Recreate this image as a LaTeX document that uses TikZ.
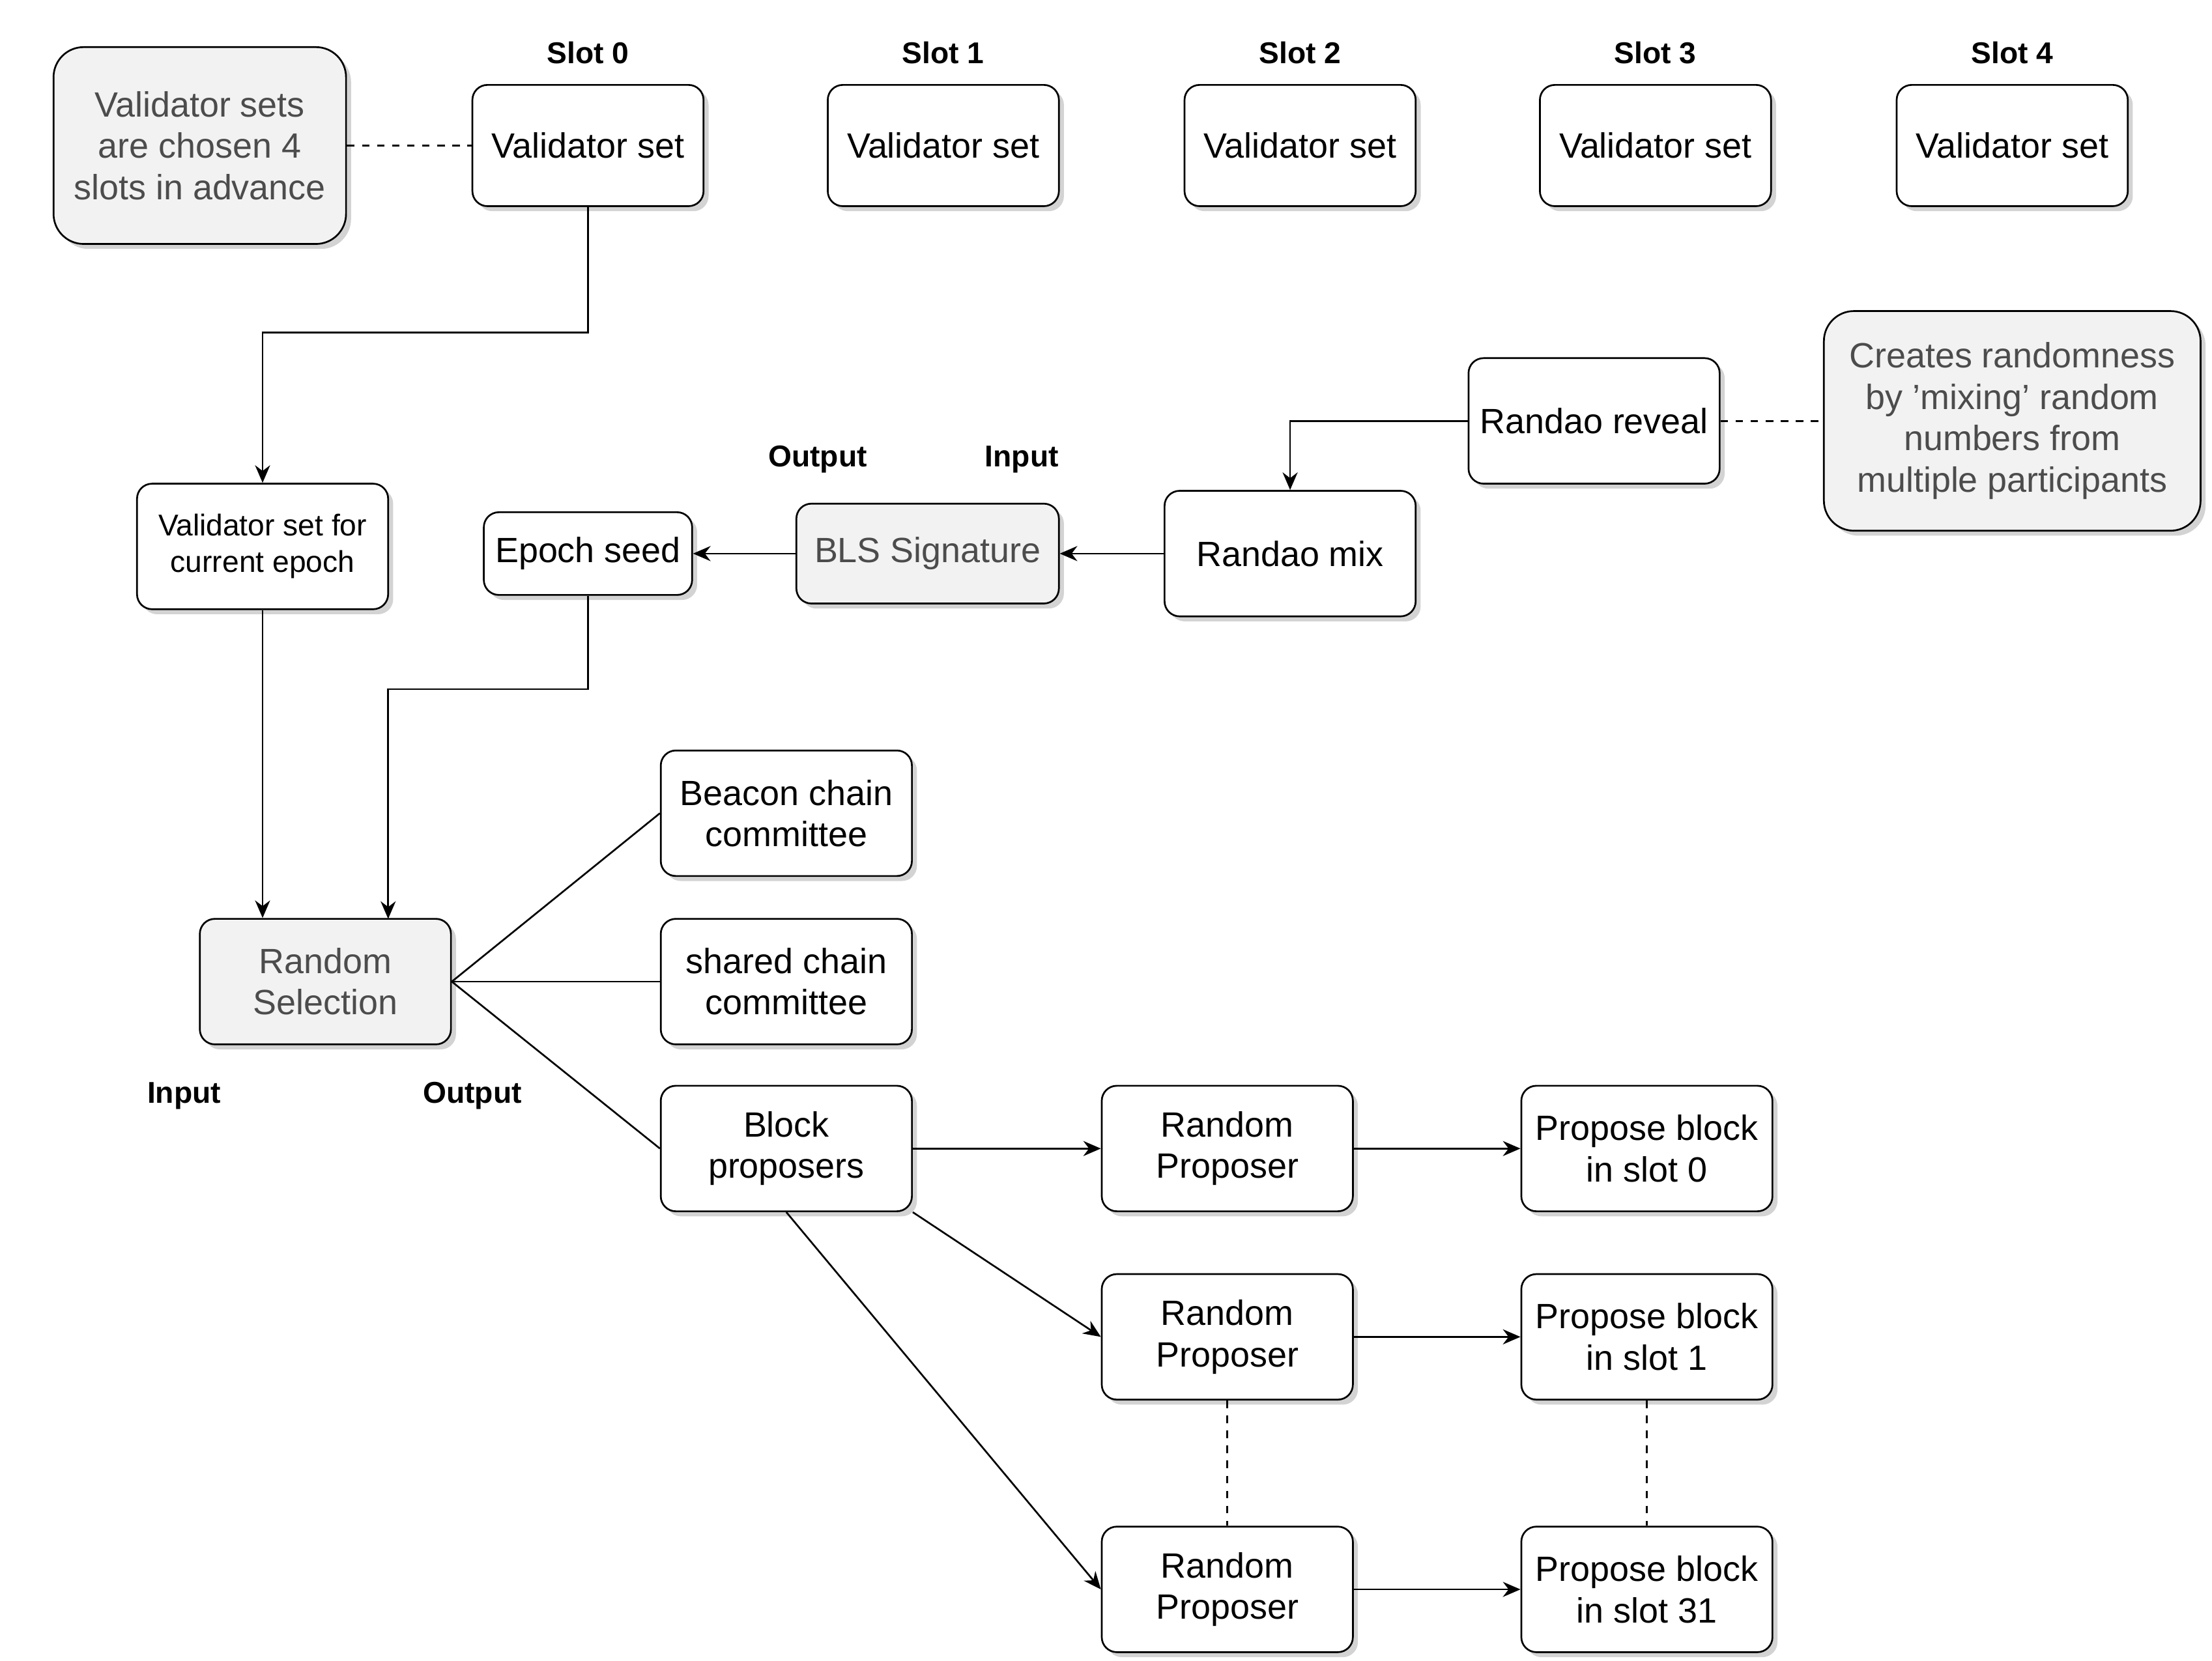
\documentclass[tikz,border=0pt]{standalone}
\usepackage{fontspec}
\setmainfont{Liberation Sans}
\usetikzlibrary{shadows,arrows.meta}
\tikzstyle{caja}= [rectangle,rounded corners=6pt,draw,black,fill=white,drop shadow={opacity=0.35,shadow xshift=2pt,shadow yshift=-2pt},align=center,font=\fontsize{14}{16.5}\selectfont,inner sep=1pt]
\tikzstyle{gris}= [caja,fill=black!5,text=black!70]
\tikzstyle{etiqueta}= [font=\fontsize{12}{14}\selectfont\bfseries]
\tikzstyle{flecha}= [-{Stealth[length=7pt,width=6pt]}]
\begin{document}
\begin{tikzpicture}[x=0.02cm,y=-0.02cm,line width=0.7pt]
		\useasboundingbox (0,0) rectangle (1550,1164);

		\node (nota1) at (140,102) [gris,minimum width=4.1cm,minimum height=2.76cm,rounded corners=12pt] {Validator sets\\are chosen 4\\slots in advance};

		\foreach \i/\x in {0/412,1/661,2/911,3/1160,4/1410}{
			\node (vs\i) at (\x,102) [caja,minimum width=3.24cm,minimum height=1.7cm] {Validator set};
			\node at (\x,37) [etiqueta] {Slot \i};
		}

		\node (vscur) at (184,383) [caja,minimum width=3.52cm,minimum height=1.76cm,font=\fontsize{12}{14.5}\selectfont] {Validator set for\\current epoch};
		\node (seed) at (412,388) [caja,minimum width=2.92cm,minimum height=1.16cm] {Epoch seed};
		\node (bls) at (650,388) [gris,minimum width=3.68cm,minimum height=1.4cm] {BLS Signature};
		\node (mix) at (904,388) [caja,minimum width=3.52cm,minimum height=1.76cm] {Randao mix};
		\node (reveal) at (1117,295) [caja,minimum width=3.52cm,minimum height=1.76cm] {Randao reveal};
		\node (nota2) at (1410,295) [gris,minimum width=5.28cm,minimum height=3.08cm,rounded corners=12pt] {Creates randomness\\by {\char"0027}mixing{\char"0027} random\\numbers from\\multiple participants};

		\node at (573,322) [etiqueta] {Output};
		\node at (716,322) [etiqueta] {Input};

		\node (rand) at (228,688) [gris,minimum width=3.52cm,minimum height=1.76cm] {Random\\Selection};
		\node at (129,768) [etiqueta] {Input};
		\node at (331,768) [etiqueta] {Output};

		\node (beacon) at (551,570) [caja,minimum width=3.52cm,minimum height=1.76cm] {Beacon chain\\committee};
		\node (shared) at (551,688) [caja,minimum width=3.52cm,minimum height=1.76cm] {shared chain\\committee};
		\node (bp) at (551,805) [caja,minimum width=3.52cm,minimum height=1.76cm] {Block\\proposers};

		\node (rp0) at (860,805) [caja,minimum width=3.52cm,minimum height=1.76cm] {Random\\Proposer};
		\node (rp1) at (860,937) [caja,minimum width=3.52cm,minimum height=1.76cm] {Random\\Proposer};
		\node (rp31) at (860,1114) [caja,minimum width=3.52cm,minimum height=1.76cm] {Random\\Proposer};
		\node (pb0) at (1154,805) [caja,minimum width=3.52cm,minimum height=1.76cm] {Propose block\\in slot 0};
		\node (pb1) at (1154,937) [caja,minimum width=3.52cm,minimum height=1.76cm] {Propose block\\in slot 1};
		\node (pb31) at (1154,1114) [caja,minimum width=3.52cm,minimum height=1.76cm] {Propose block\\in slot 31};

		\draw[dashed] (nota1) -- (vs0);
		\draw[dashed] (reveal) -- (nota2);
		\draw[flecha] (vs0.south) -- (412,233) -| (vscur.north);
		\draw[flecha] (reveal.west) -| (mix.north);
		\draw[flecha] (mix) -- (bls);
		\draw[flecha] (bls) -- (seed);
		\draw[flecha] (vscur.south) -- (rand.north -| vscur.south);
		\draw[flecha] (seed.south) -- (412,483) -| (272,644);

		\draw (rand.east) -- (beacon.west);
		\draw (rand.east) -- (shared.west);
		\draw (rand.east) -- (bp.west);

		\draw[flecha] (bp) -- (rp0);
		\draw[flecha] (bp.south east) -- (rp1.west);
		\draw[flecha] (bp.south) -- (rp31.west);
		\draw[flecha] (rp0) -- (pb0);
		\draw[flecha] (rp1) -- (pb1);
		\draw[flecha] (rp31) -- (pb31);
		\draw[dashed] (rp1) -- (rp31);
		\draw[dashed] (pb1) -- (pb31);
\end{tikzpicture}
\end{document}
